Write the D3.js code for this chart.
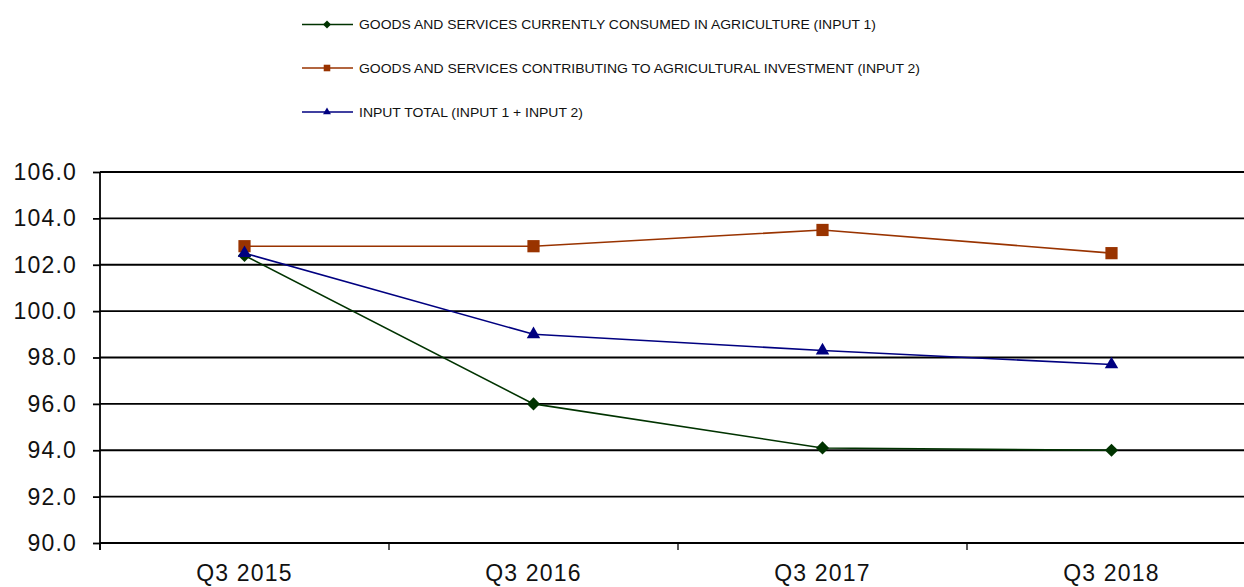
<!DOCTYPE html>
<html>
<head>
<meta charset="utf-8">
<script src="https://cdn.jsdelivr.net/npm/d3@7"></script>
<style>
  body { margin: 0; background: #fff; }
  svg { display: block; font-family: Arial, "Liberation Sans", sans-serif; }
</style>
</head>
<body>
<svg id="chart" width="1244" height="587"></svg>
<script>
// categorieen en waarden
var quarters = ["Q3 2015", "Q3 2016", "Q3 2017", "Q3 2018"];
var input1 = [102.4, 96.0, 94.1, 94.0];
var input2 = [102.8, 102.8, 103.5, 102.5];
var inputTotal = [102.5, 99.0, 98.3, 97.7];
var yTicks = [90, 92, 94, 96, 98, 100, 102, 104, 106];

var seriesNames = [
  "GOODS AND SERVICES CURRENTLY CONSUMED IN AGRICULTURE (INPUT 1)",
  "GOODS AND SERVICES CONTRIBUTING TO AGRICULTURAL INVESTMENT (INPUT 2)",
  "INPUT TOTAL (INPUT 1 + INPUT 2)"
];

var series = [
  {name: seriesNames[0], values: input1, color: "#003300", symbol: d3.symbolDiamond2, size: 110, lsize: 40, textLen: 517},
  {name: seriesNames[1], values: input2, color: "#993300", symbol: d3.symbolSquare2, size: 190, lsize: 55, textLen: 561},
  {name: seriesNames[2], values: inputTotal, color: "#000080", symbol: d3.symbolTriangle2, size: 130, lsize: 45, textLen: 224}
];

var svg = d3.select("#chart");

// schalen
var x = d3.scaleBand().domain(quarters).range([100, 1256]);
var y = d3.scaleLinear().domain([90, 106]).range([543, 172]);

// gridlijnen
svg.append("g")
  .selectAll("line")
  .data(yTicks)
  .enter().append("line")
    .attr("x1", 100)
    .attr("x2", 1256)
    .attr("y1", function(d) { return y(d); })
    .attr("y2", function(d) { return y(d); })
    .attr("stroke", "#000")
    .attr("stroke-width", 1.8);

// y-as
var yAxis = svg.append("g")
    .attr("transform", "translate(100,0)")
    .call(d3.axisLeft(y).tickValues(yTicks).tickSize(7).tickPadding(16).tickFormat(d3.format(".1f")));
yAxis.select(".domain").remove();
yAxis.selectAll("line").attr("stroke", "#000").attr("stroke-width", 1.8);
yAxis.selectAll("text")
    .attr("font-size", 23)
    .attr("letter-spacing", 1.2)
    .attr("fill", "#111");
svg.append("line")
    .attr("x1", 100).attr("x2", 100)
    .attr("y1", 172).attr("y2", 550)
    .attr("stroke", "#000").attr("stroke-width", 1.8);

// x-as
var xAxis = svg.append("g")
    .attr("transform", "translate(0,543)")
    .call(d3.axisBottom(x).tickSize(0).tickPadding(22));
xAxis.select(".domain").remove();
xAxis.selectAll("text")
    .attr("font-size", 23)
    .attr("letter-spacing", 1.2)
    .attr("fill", "#111");

// tickjes tussen de categorieen
var bounds = quarters.map(function(q) { return x(q); }).concat([x.range()[1]]);
svg.append("g")
  .selectAll("line")
  .data(bounds)
  .enter().append("line")
    .attr("x1", function(d) { return d; })
    .attr("x2", function(d) { return d; })
    .attr("y1", 543)
    .attr("y2", 550)
    .attr("stroke", "#000")
    .attr("stroke-width", 1.3);

// lijnen en markers
var line = d3.line()
    .x(function(d, i) { return x(quarters[i]) + x.bandwidth() / 2; })
    .y(function(d) { return y(d); });

series.forEach(function(s) {
  svg.append("path")
    .datum(s.values)
    .attr("fill", "none")
    .attr("stroke", s.color)
    .attr("stroke-width", 1.6)
    .attr("d", line);
});

// markers apart zodat ze boven alle lijnen liggen (driehoek op de voorgrond)
[series[1], series[0], series[2]].forEach(function(s) {
  svg.append("g")
    .selectAll("path")
    .data(s.values)
    .enter().append("path")
      .attr("transform", function(d, i) {
        return "translate(" + (x(quarters[i]) + x.bandwidth() / 2) + "," + y(d) + ")";
      })
      .attr("d", d3.symbol().type(s.symbol).size(s.size))
      .attr("fill", s.color);
});

// legenda
var legend = svg.append("g")
  .selectAll("g")
  .data(series)
  .enter().append("g")
    .attr("transform", function(d, i) { return "translate(0," + [24.5, 68, 112][i] + ")"; });

legend.append("line")
    .attr("x1", 302).attr("x2", 353)
    .attr("stroke", function(d) { return d.color; })
    .attr("stroke-width", 1.6);

legend.append("path")
    .attr("transform", "translate(327,0)")
    .attr("d", function(d) { return d3.symbol().type(d.symbol).size(d.lsize)(); })
    .attr("fill", function(d) { return d.color; });

legend.append("text")
    .attr("x", 359)
    .attr("dy", "0.35em")
    .attr("font-size", 13.5)
    .attr("fill", "#111")
    .attr("textLength", function(d) { return d.textLen; })
    .attr("lengthAdjust", "spacingAndGlyphs")
    .text(function(d) { return d.name; });
</script>
</body>
</html>
